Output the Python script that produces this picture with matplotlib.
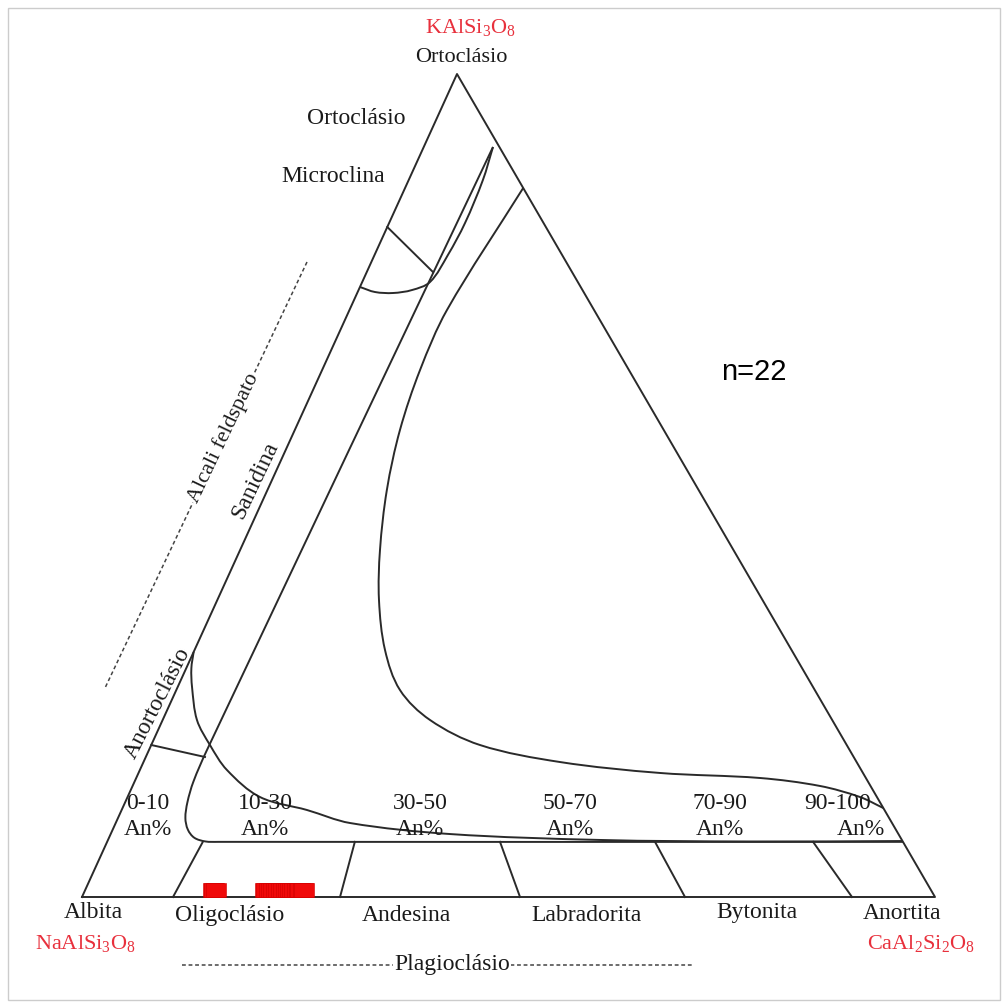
import numpy as np
import matplotlib.pyplot as plt
from matplotlib.patches import Rectangle, PathPatch
from matplotlib.path import Path

plt.rcParams['font.family'] = ['Liberation Serif', 'DejaVu Serif']
plt.rcParams['mathtext.fontset'] = 'custom'
plt.rcParams['mathtext.rm'] = 'Liberation Serif'
plt.rcParams['mathtext.it'] = 'Liberation Serif:italic'

# ---- data (mol %, An and Or; Ab is the rest) ----
# solvus (big curve)
solvus_an = [13.85, 11.43, 11.48, 12.33, 14.0, 16.4, 18.95, 22.33, 26.22, 31.34,
             38.53, 48.83, 61.14, 73.13, 80.59, 85.86, 89.19]
solvus_or = [86.15, 71.32, 64.03, 56.74, 49.45, 42.16, 36.09, 30.01, 25.15, 21.51,
             18.47, 16.40, 15.07, 14.46, 13.49, 12.15, 10.81]

# anorthoclase curve
anortho_an = [0, 0.6, 1.68, 4.02, 6.88, 10.21, 15.52, 21.73, 27.47, 39.78, 57.7, 75.35, 93.2]
anortho_or = [29.77, 27.8, 25.52, 21.51, 18.47, 15.43, 12.15, 10.57, 8.99, 7.65, 6.93, 6.74, 6.8]

# sanidine / plagioclase boundary
inner_an = [8.12, 6.8, 6.9, 7.3, 7.9, 8.8, 10.0, 11.5, 13.0, 93.3]
inner_or = [91.13, 17.9, 14.0, 11.5, 9.6, 8.2, 7.2, 6.75, 6.7, 6.7]

# microcline cap
cap_an = [8.12, 8.7, 8.9, 8.6, 7.95, 6.26, 4.2, 2.03, 0]
cap_or = [91.13, 87.1, 81.9, 78.0, 74.73, 73.75, 73.39, 73.51, 74.12]

micro_an = [0, 7.76]
micro_or = [81.41, 75.94]

anline_an = [0, 6.94]
anline_or = [18.47, 17.01]

# plagioclase dividers (bottom at Or=0, top at Or=6.7)
div_bottom_an = [10.67, 30.25, 51.35, 70.69, 90.27]
div_top_an = [11.22, 29.04, 46.06, 64.23, 82.76]
div_top_or = 6.7

# samples (n=22)
samp_an = [15.0, 15.1, 15.3,
           21.0, 21.2, 21.5, 21.8, 22.0, 22.3, 22.6, 23.0, 23.2, 23.5,
           23.8, 24.0, 24.2, 24.5, 24.8, 25.0, 25.2, 25.5, 25.7]
samp_or = [0.85, 0.9, 0.85,
           0.9, 0.85, 0.9, 0.9, 0.85, 0.9, 0.9, 0.85, 0.9, 0.9,
           0.85, 0.9, 0.9, 0.85, 0.9, 0.9, 0.85, 0.9, 0.85]

zone_labels = ["0-10", "10-30", "30-50", "50-70", "70-90", "90-100"]
mineral_labels = ["Oligoclásio", "Andesina", "Labradorita", "Bytonita"]

# ---- layout: triangle corners on the canvas (px) ----
AB = (82, 897)
AN = (935, 897)
OR = (457, 74)


def tern(an, orr):
    an = np.asarray(an, dtype=float) / 100.0
    orr = np.asarray(orr, dtype=float) / 100.0
    ab = 1 - an - orr
    x = ab * AB[0] + an * AN[0] + orr * OR[0]
    y = ab * AB[1] + an * AN[1] + orr * OR[1]
    return x, y


def smooth_path(x, y):
    # bezier through the points, tangents from neighbours
    p = np.column_stack([x, y])
    n = len(p)
    d = np.zeros_like(p)
    for i in range(n):
        a = p[max(i - 1, 0)]
        b = p[min(i + 1, n - 1)]
        v = b - a
        d[i] = v / np.hypot(*v)
    verts = [p[0]]
    codes = [Path.MOVETO]
    for i in range(n - 1):
        L = np.hypot(*(p[i + 1] - p[i]))
        verts += [p[i] + d[i] * L / 3, p[i + 1] - d[i + 1] * L / 3, p[i + 1]]
        codes += [Path.CURVE4] * 3
    return Path(verts, codes)


fig = plt.figure(figsize=(10.05, 10.05), dpi=100)
ax = fig.add_axes([0, 0, 1, 1])
ax.set_xlim(0, 1005)
ax.set_ylim(1005, 0)
ax.axis('off')

ax.add_patch(Rectangle((8, 8), 992, 992, fill=False, ec='#cccccc', lw=1))

lc = '#2a2a2a'
lw = 1.4
x, y = tern([0, 100, 0, 0], [0, 0, 100, 0])
ax.plot(x, y, color=lc, lw=lw)

for a, o in [(solvus_an, solvus_or), (anortho_an, anortho_or), (inner_an, inner_or),
             (cap_an, cap_or)]:
    x, y = tern(a, o)
    ax.add_patch(PathPatch(smooth_path(x, y), fill=False, ec=lc, lw=lw))

for a, o in [(micro_an, micro_or), (anline_an, anline_or)]:
    x, y = tern(a, o)
    ax.plot(x, y, color=lc, lw=lw)

for b, t in zip(div_bottom_an, div_top_an):
    x, y = tern([b, t], [0, div_top_or])
    ax.plot(x, y, color=lc, lw=lw)

rect = [(-1, -0.72), (1, -0.72), (1, 0.72), (-1, 0.72), (-1, -0.72)]
x, y = tern(samp_an, samp_or)
ax.plot(x, y, ls='none', marker=rect, ms=14, mfc='#f00a0a', mec='#d00000', mew=0.4, zorder=5)

# ---- text ----
tc = '#1a1a1a'
red = '#e8303c'
fs = 17

ax.text(470, 27, r'KAlSi$_3$O$_8$', color=red, fontsize=16, ha='center', va='center')
ax.text(461, 57, 'Ortoclásio', color=tc, fontsize=16, ha='center', va='center')
ax.text(356, 118, 'Ortoclásio', color=tc, fontsize=fs, ha='center', va='center')
ax.text(333, 176, 'Microclina', color=tc, fontsize=fs, ha='center', va='center')
ax.text(754, 372, 'n=22', color='black', fontsize=21, ha='center', va='center',
        family=['Liberation Sans', 'DejaVu Sans'])

# alkali feldspar dashed line with label
ax.plot([307, 105], [262, 688], color='#444444', lw=1.1, ls=(0, (2.5, 1.8)))
ax.text(223, 438, 'Alcali feldspato', color=tc, fontsize=16, rotation=64.5,
        ha='center', va='center', rotation_mode='anchor',
        bbox=dict(fc='white', ec='none', pad=0.5))
ax.text(255, 480, 'Sanidina', color=tc, fontsize=fs, rotation=64.5,
        ha='center', va='center', rotation_mode='anchor')
ax.text(158, 703, 'Anortoclásio', color=tc, fontsize=fs, rotation=63,
        ha='center', va='center', rotation_mode='anchor')

zone_x = [148, 265, 420, 570, 720, 838]
an_x = [148, 265, 420, 570, 720, 861]
for lab, zx, axx in zip(zone_labels, zone_x, an_x):
    ax.text(zx, 803, lab, color=tc, fontsize=fs, ha='center', va='center')
    ax.text(axx, 829, 'An%', color=tc, fontsize=fs, ha='center', va='center')

ax.text(93, 912, 'Albita', color=tc, fontsize=fs, ha='center', va='center')
ax.text(85, 943, r'NaAlSi$_3$O$_8$', color=red, fontsize=16, ha='center', va='center')
ax.text(902, 913, 'Anortita', color=tc, fontsize=fs, ha='center', va='center')
ax.text(921, 943, r'CaAl$_2$Si$_2$O$_8$', color=red, fontsize=16, ha='center', va='center')

for lab, mx, my in zip(mineral_labels, [230, 406, 586, 757], [915, 915, 915, 912]):
    ax.text(mx, my, lab, color=tc, fontsize=fs, ha='center', va='center')

ax.plot([182, 692], [965, 965], color='#444444', lw=1.1, ls=(0, (2.5, 1.8)))
ax.text(452, 964, 'Plagioclásio', color=tc, fontsize=fs, ha='center', va='center',
        bbox=dict(fc='white', ec='none', pad=0.5))

fig.savefig('out.png', dpi=100)
